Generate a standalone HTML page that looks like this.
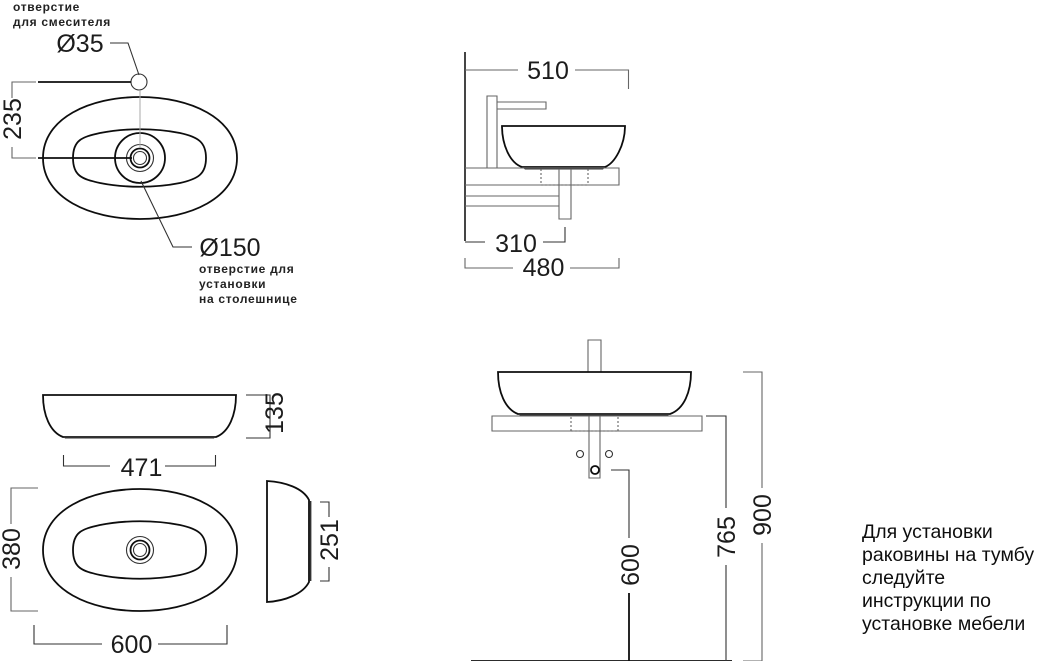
<!DOCTYPE html>
<html><head><meta charset="utf-8">
<style>
html,body{margin:0;padding:0;background:#fff;width:1039px;height:663px;overflow:hidden}
svg{display:block}
text{font-family:"Liberation Sans",sans-serif;fill:#1a1a1a}
.d{font-size:25px;text-anchor:middle}
.s{font-size:12px;font-weight:bold;letter-spacing:.7px;fill:#222}
.r{font-size:19.5px;fill:#111}
.k{fill:none;stroke:#111;stroke-width:1.8}
.m{fill:none;stroke:#333;stroke-width:1.1}
.g{fill:none;stroke:#666;stroke-width:1.1}
.dot{fill:none;stroke:#555;stroke-width:1;stroke-dasharray:2 2}
</style></head><body>
<svg width="1039" height="663" viewBox="0 0 1039 663" xmlns="http://www.w3.org/2000/svg">
<filter id="b" x="0" y="0" width="100%" height="100%"><feGaussianBlur stdDeviation="0.35"/></filter>
<g filter="url(#b)">

<!-- Top plan -->
<path class="k" d="M43,158 C43,118 90,97 140,97 C190,97 237,118 237,158 C237,198 190,219 140,219 C90,219 43,198 43,158Z"/>
<path class="k" d="M73,158 C73,140 82,137 100,133 C125,128 155,128 180,133 C198,137 206,142 206,158 C206,174 198,179 180,183 C155,188 125,188 100,183 C82,179 73,176 73,158Z"/>
<circle class="k" cx="140" cy="158" r="25" stroke-width="1.4"/>
<circle class="m" cx="140" cy="158" r="13.5"/>
<circle class="k" cx="140" cy="158" r="9.5"/>
<circle class="m" cx="140" cy="158" r="6.5" stroke-width="1.6"/>
<circle class="m" cx="139" cy="82" r="8" stroke-width="1.4"/>
<path d="M140,90V148" fill="none" stroke="#aaa" stroke-width="1"/>
<path class="g" d="M36,82H12V98M12,147V158H36"/>
<path class="k" d="M38,82H131" stroke-width="1.3"/>
<path class="k" d="M38,158H132" stroke-width="1.5"/>
<path class="m" d="M110,43H128L139,75"/>
<path class="m" d="M141,181L173,247H192" stroke-width="1.3"/>
<text class="s" x="13" y="11">отверстие</text>
<text class="s" x="13" y="26">для смесителя</text>
<text class="d" x="80" y="52">Ø35</text>
<text class="d" transform="translate(21,119) rotate(-90)">235</text>
<text class="d" x="230" y="256">Ø150</text>
<text class="s" x="199" y="273">отверстие для</text>
<text class="s" x="199" y="288">установки</text>
<text class="s" x="199" y="303">на столешнице</text>

<!-- Side view upper right -->
<path d="M465,52V241" fill="none" stroke="#444" stroke-width="2"/>
<path class="g" d="M465,70H518M575,70H628.5V89"/>
<path class="g" d="M487,168V96H497V168M497,102H546V109H497"/>
<path class="k" d="M502,126H625 C625,145 615,163 605,167 H522 C510,163 502,145 502,126Z"/>
<path d="M522,167H605L603,169.500H525Z" fill="#333"/>
<path class="g" d="M465,168H619V185H465"/>
<path class="dot" d="M541,169V185M588,169V185M541,185H588"/>
<path class="g" d="M559,169V219H571V169M465,196H559M465,206H559" stroke-width="1.200"/>
<path class="m" d="M465,242H485M543,242H565V227"/>
<path class="g" d="M465,258V268H513M570,268H619V258"/>
<text class="d" x="548" y="79">510</text>
<text class="d" x="516" y="252">310</text>
<text class="d" x="543.500" y="276">480</text>

<!-- Elevation lower left -->
<path class="k" d="M43,395H236 C236,415 229,432 216,437 H63 C50,432 43,415 43,395Z"/>
<path d="M63,436H216L214,438.500H65Z" fill="#333"/>
<path class="m" d="M246,395H270V438H246"/>
<path class="m" d="M63.500,455V466H110M165,466H215.500V455"/>
<text class="d" transform="translate(283,413) rotate(-90)">135</text>
<text class="d" x="141.500" y="476">471</text>

<!-- Lower plan -->
<path class="k" d="M43,550 C43,510 90,489 140,489 C190,489 237,510 237,550 C237,590 190,611 140,611 C90,611 43,590 43,550Z"/>
<path class="k" d="M73,550 C73,532 82,529 100,525 C125,520 155,520 180,525 C198,529 206,534 206,550 C206,566 198,571 180,575 C155,580 125,580 100,575 C82,571 73,568 73,550Z"/>
<circle class="m" cx="140" cy="550" r="13.500"/>
<circle class="k" cx="140" cy="550" r="9.500"/>
<circle class="m" cx="140" cy="550" r="6.500" stroke-width="1.600"/>
<path class="g" d="M38,488H11V524M11,577V611H38"/>
<path class="m" d="M34,625V644H102M158,644H227V625"/>
<text class="d" transform="translate(20,549) rotate(-90)">380</text>
<text class="d" x="131.500" y="653">600</text>

<!-- Side profile -->
<path class="k" d="M267,481 C285,482 303,488 309,500 V582 C303,594 285,601 267,602Z"/>
<path d="M310.500,501V581" fill="none" stroke="#333" stroke-width="1.800"/>
<path class="m" d="M320,502H329V517M329,567V581H320"/>
<text class="d" transform="translate(338,540) rotate(-90)">251</text>

<!-- Front elevation -->
<path class="g" d="M588,372V340H601V372" stroke-width="1.300"/>
<path class="k" d="M498,372H691 C691,392 684,409 670,414 H518 C505,409 498,392 498,372Z"/>
<path d="M518,413H670L668,416H520Z" fill="#333"/>
<path class="g" d="M492,416H702V431H492Z"/>
<path class="dot" d="M571,417V431M618,417V431M571,431H618"/>
<path class="g" d="M589,416V478H600V416"/>
<circle class="m" cx="580" cy="454" r="3.500" stroke-width="1.400"/>
<circle class="m" cx="609" cy="454" r="3.500" stroke-width="1.400"/>
<circle class="k" cx="595" cy="470" r="4"/>
<path class="m" d="M611,470H629V538"/>
<path class="k" d="M629,593V661" stroke-width="1.500"/>
<path class="k" d="M471,661H732" stroke-width="2"/>
<path class="m" d="M706,416H726V508M726,565V661" stroke-width="1.300"/>
<path class="g" d="M743,372H762V488M762,543V661H743"/>
<text class="d" transform="translate(639,565) rotate(-90)">600</text>
<text class="d" transform="translate(735,537) rotate(-90)">765</text>
<text class="d" transform="translate(771,515) rotate(-90)">900</text>

<!-- Note -->
<text class="r" x="862" y="538">Для установки</text>
<text class="r" x="862" y="561">раковины на тумбу</text>
<text class="r" x="862" y="584">следуйте</text>
<text class="r" x="862" y="607">инструкции по</text>
<text class="r" x="862" y="630">установке мебели</text>
</g>
</svg>
</body></html>
